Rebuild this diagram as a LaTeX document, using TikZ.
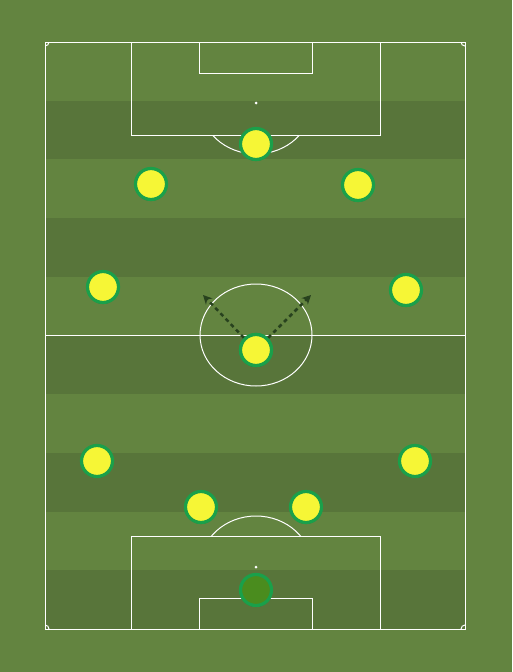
\documentclass[tikz,border=0pt]{standalone}
\usetikzlibrary{arrows.meta,shadows}
\definecolor{grassL}{RGB}{99,132,64}
\definecolor{grassD}{RGB}{88,117,58}
\definecolor{pborder}{RGB}{26,160,74}
\definecolor{pfill}{RGB}{246,246,54}
\definecolor{gkfill}{RGB}{74,140,30}
\definecolor{arrowc}{RGB}{40,66,30}
\tikzset{
  pline/.style={draw=white, line width=1pt},
  player/.style={circle, draw=pborder, fill=pfill, line width=3.2pt, minimum size=31pt, inner sep=0pt,
    drop shadow={shadow xshift=0pt, shadow yshift=-1.5pt, opacity=0.25, fill=black}},
  keeper/.style={player, fill=gkfill},
  runarrow/.style={draw=arrowc, line width=2.5pt, dash pattern=on 4pt off 3.5pt, -{Stealth[length=9pt,width=9pt]}},
}
\begin{document}
\begin{tikzpicture}[x=1pt,y=-1pt]
\useasboundingbox (0,0) rectangle (512,672);
\fill[grassL] (0,0) rectangle (512,672);
% stripes
\foreach \i in {1,3,5,7,9} {
  \fill[grassD] (45,{42+\i*58.7}) rectangle (465,{42+(\i+1)*58.7});
}
% outline
\draw[pline] (45,42) rectangle (465,629);
\draw[pline] (45,335) -- (465,335);
\draw[pline] (256,335) ellipse [x radius=56, y radius=51];
% top
\draw[pline] (131,42) rectangle (380,135);
\draw[pline] (199,42) rectangle (312,73);
\fill[white] (256,103) circle (1.5);
\begin{scope}
\clip (0,135) rectangle (512,200);
\draw[pline] (256,103) ellipse [x radius=56, y radius=51];
\end{scope}
% bottom
\draw[pline] (131,536) rectangle (380,629);
\draw[pline] (199,598) rectangle (312,629);
\fill[white] (256,567) circle (1.5);
\begin{scope}
\clip (0,470) rectangle (512,536);
\draw[pline] (256,567) ellipse [x radius=56, y radius=51];
\end{scope}
% corners
\begin{scope}
\clip (45,42) rectangle (465,629);
\draw[pline] (45,42) circle (4);
\draw[pline] (465,42) circle (4);
\draw[pline] (45,629) circle (4);
\draw[pline] (465,629) circle (4);
\end{scope}
% arrows
\coordinate (ta) at (203,295);
\coordinate (tb) at (311,295);
\node[player] (p6) at (256,350) {};
\draw[runarrow] (p6.north west) -- (ta);
\draw[runarrow] (p6.north east) -- (tb);
\node[player] (p6b) at (256,350) {};
% players
\node[player] (p1) at (256,144) {};
\node[player] (p2) at (151,184) {};
\node[player] (p3) at (358,185) {};
\node[player] (p4) at (103,287) {};
\node[player] (p5) at (406,290) {};
\node[player] (p7) at (97,461) {};
\node[player] (p8) at (415,461) {};
\node[player] (p9) at (201,507) {};
\node[player] (p10) at (306,507) {};
\node[keeper] (gk) at (256,590) {};
\end{tikzpicture}
\end{document}
